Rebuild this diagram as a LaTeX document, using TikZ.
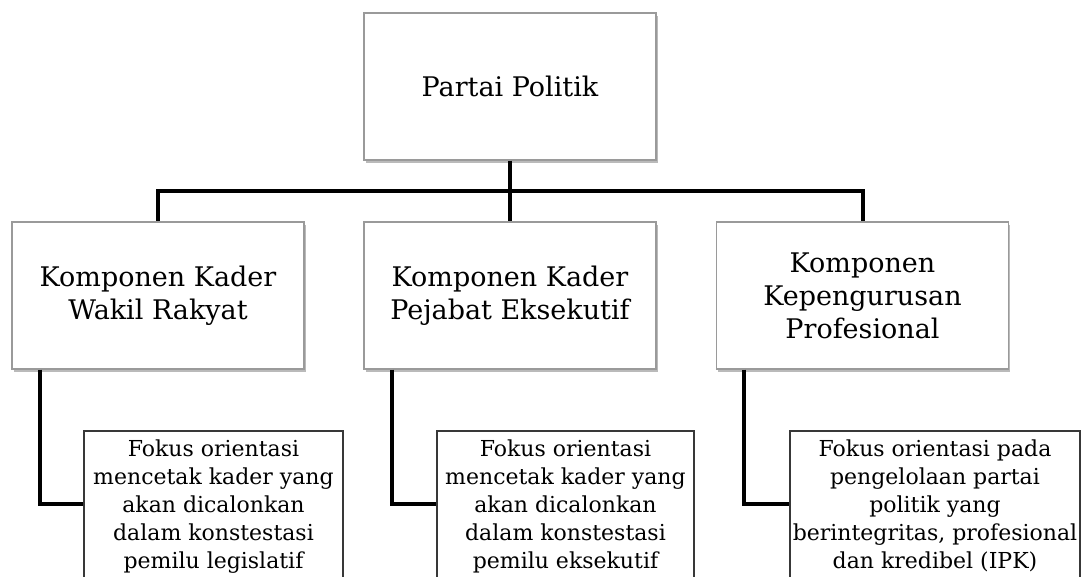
\documentclass[tikz,border=0pt]{standalone}
\usepackage{fontspec}
\setmainfont{DejaVu Serif}
\usetikzlibrary{shadows}
\definecolor{boxgray}{HTML}{9A9A9A}
\definecolor{darkline}{HTML}{383838}
\begin{document}
\begin{tikzpicture}[x=1pt,y=-1pt,
  upbox/.style={draw=boxgray, line width=1.3pt, fill=white, minimum width=292pt,
    minimum height=147pt, inner sep=0pt, align=center,
    font=\fontsize{27}{33}\selectfont,
    drop shadow={shadow xshift=1.5pt, shadow yshift=-2.5pt, fill=black!45, opacity=0.6}},
  lowbox/.style={draw=darkline, line width=2pt, fill=white, anchor=north west,
    inner sep=0pt, minimum height=200pt,
    drop shadow={shadow xshift=1.2pt, shadow yshift=-1.5pt, fill=black!40, opacity=0.5}},
  lowtext/.style={anchor=north, align=center, inner sep=0pt,
    font=\fontsize{22}{28}\selectfont},
  conn/.style={line width=4pt, black}]
\useasboundingbox (0,0) rectangle (1081,576);
\clip (0,0) rectangle (1081,576);

\node[upbox] (top) at (510,86.5) {Partai Politik};
\node[upbox] (m1) at (158,295.5) {Komponen Kader\\Wakil Rakyat};
\node[upbox] (m2) at (510,295.5) {Komponen Kader\\Pejabat Eksekutif};
\node[upbox] (m3) at (862.5,295.5) {Komponen\\Kepengurusan\\Profesional};

\node[lowbox, minimum width=259pt] (b1) at (83,430) {};
\node[lowbox, minimum width=257pt] (b2) at (436,430) {};
\node[lowbox, minimum width=290pt] (b3) at (789,430) {};

\node[lowtext] (t1) at ([yshift=-10pt]b1.north) {Fokus orientasi\\mencetak kader yang\\akan dicalonkan\\dalam konstestasi\\pemilu legislatif};
\node[lowtext] (t2) at ([yshift=-10pt]b2.north) {Fokus orientasi\\mencetak kader yang\\akan dicalonkan\\dalam konstestasi\\pemilu eksekutif};
\node[lowtext] (t3) at ([yshift=-10pt]b3.north) {Fokus orientasi pada\\pengelolaan partai\\politik yang\\berintegritas, profesional\\dan kredibel (IPK)};

\coordinate (bus) at (510,191);
\draw[conn] (top.south) -- (m2.north);
\draw[conn] (bus) -| (m1.north);
\draw[conn] (bus) -| (m3.north);

\draw[conn] ([xshift=28.5pt]m1.south west) |- ([yshift=-74pt]b1.north west);
\draw[conn] ([xshift=28.5pt]m2.south west) |- ([yshift=-74pt]b2.north west);
\draw[conn] ([xshift=28.5pt]m3.south west) |- ([yshift=-74pt]b3.north west);
\end{tikzpicture}
\end{document}
